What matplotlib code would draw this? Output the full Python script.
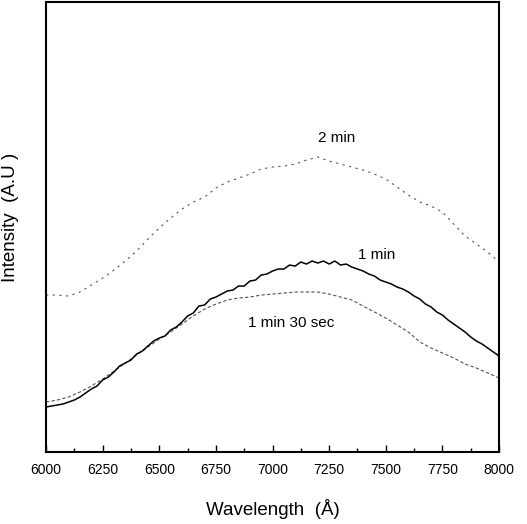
import numpy as np
import matplotlib.pyplot as plt
from matplotlib.ticker import MultipleLocator

plt.rcParams['font.family'] = ['Liberation Sans', 'DejaVu Sans']

# wavelength grids (Angstrom)
wl_fine = np.arange(6000, 8001, 25)
wl_coarse = np.arange(6000, 8001, 50)

# 1 min (solid black)
int_1min = [45, 46, 47, 48, 50, 52, 55, 59, 63, 66, 72, 75, 80, 86, 89, 92,
            98, 101, 106, 111, 114, 116, 122, 125, 130, 136, 139, 146, 147,
            153, 155, 158, 161, 162, 166, 166, 171, 172, 177, 178, 181, 183,
            183, 187, 186, 190, 188, 191, 189, 191, 188, 191, 187, 188, 185,
            183, 181, 178, 176, 172, 170, 168, 165, 163, 160, 156, 153, 148,
            145, 140, 137, 132, 128, 124, 120, 115, 111, 108, 104, 100, 96]

# 1 min 30 sec (gray dashed)
int_1min30 = [50, 52, 55, 60, 66, 73, 81, 89, 97, 105, 113, 120, 128, 136,
              143, 148, 152, 154, 155, 157, 158, 159, 160, 160, 160, 158, 155,
              152, 146, 140, 134, 127, 120, 110, 104, 99, 94, 88, 84, 79, 74]

# 2 min (gray dotted)
int_2min = [157, 157, 156, 160, 167, 174, 182, 191, 201, 213, 224, 234, 243,
            250, 255, 264, 270, 274, 278, 283, 285, 286, 288, 292, 295, 291,
            288, 285, 282, 278, 273, 265, 257, 250, 246, 240, 228, 216, 208,
            200, 190]

fig = plt.figure(figsize=(5.27, 5.24), dpi=100)
ax = fig.add_axes([0.0873, 0.1374, 0.8597, 0.8586])

ax.plot(wl_coarse, int_2min, color='#555555', lw=0.8, dashes=(2, 4))
ax.plot(wl_coarse, int_1min30, color='#555555', lw=0.8, dashes=(3, 2))
ax.plot(wl_fine, int_1min, color='black', lw=1.1)

ax.text(7285, 314, '2 min', fontsize=11, ha='center', va='center')
ax.text(7460, 197, '1 min', fontsize=11, ha='center', va='center')
ax.text(7082, 129, '1 min 30 sec', fontsize=11, ha='center', va='center')

ax.set_xlim(6000, 8000)
ax.set_ylim(0, 450)
ax.xaxis.set_major_locator(MultipleLocator(250))
ax.xaxis.set_minor_locator(MultipleLocator(125))
ax.tick_params(axis='x', which='major', direction='in', length=5, width=1,
               labelsize=10, pad=8)
ax.tick_params(axis='x', which='minor', direction='in', length=3, width=1)
ax.set_yticks([])
for s in ax.spines.values():
    s.set_linewidth(1.5)

ax.set_xlabel('Wavelength  (Å)', fontsize=13.5, labelpad=16)
ax.set_ylabel('Intensity  (A.U )', fontsize=13.5)
ax.yaxis.set_label_coords(-0.06, 0.522)

fig.savefig('out.png', dpi=100)
